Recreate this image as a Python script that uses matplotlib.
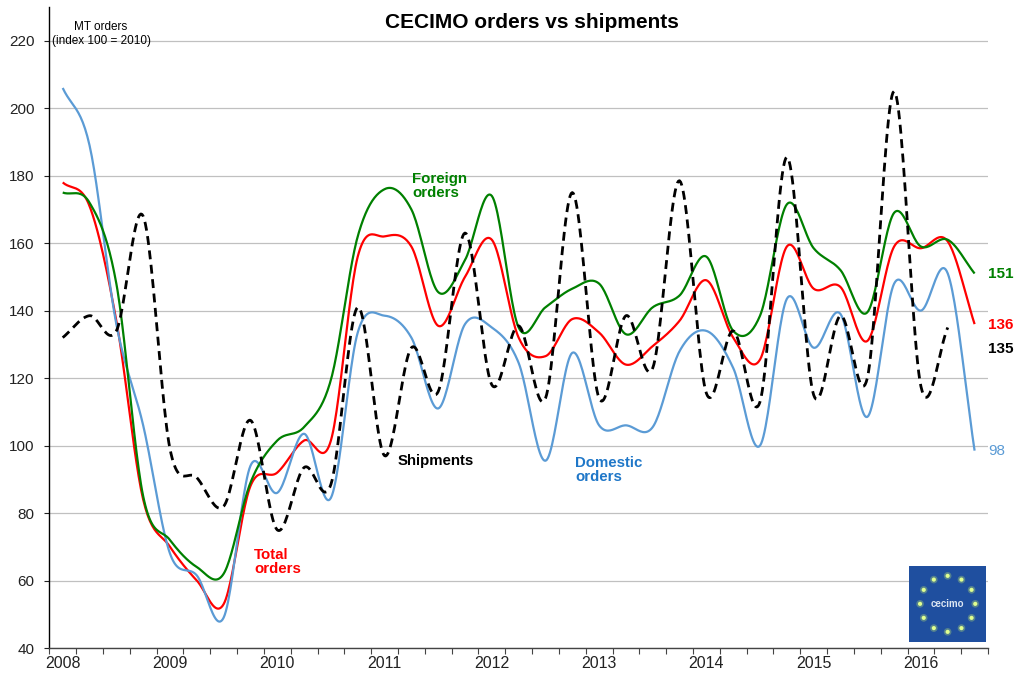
import numpy as np
import matplotlib
matplotlib.use("Agg")
import matplotlib.pyplot as plt
from matplotlib.patches import Rectangle

plt.rcParams['font.family'] = ['Liberation Sans', 'DejaVu Sans']

# ---------------- data (quarterly, 2008Q1 .. 2016Q3) ----------------
years = ['2008', '2009', '2010', '2011', '2012', '2013', '2014', '2015', '2016']

total_orders = [178, 171, 137, 84, 70, 60, 53, 88, 92, 101.5, 101.5, 156, 162, 159,
                135.5, 150, 161, 132, 126.5, 137.5, 133.5, 124, 129.5, 137, 149,
                132, 125.5, 159, 146.5, 147, 131, 159, 158.5, 160.5, 136]

foreign_orders = [175, 172, 148, 85, 72, 64, 62, 89, 101.5, 105.5, 119.5, 162, 176,
                  170, 145.5, 155, 174, 135, 141, 146.5, 148, 133, 141, 144.5, 156,
                  134, 138.5, 171.5, 158.5, 152, 139.5, 169, 159, 161, 151]

domestic_orders = [206, 189, 136, 106, 68, 61.5, 49, 94, 86, 103.5, 84.5, 133.5,
                   138.5, 132, 111, 136, 135, 124.5, 95.5, 127.5, 106, 106, 105.5,
                   128, 134, 123, 100, 143.5, 129, 139, 108.5, 148, 140, 151, 98.5]

shipments = [132, 138.5, 134, 168, 99, 90.5, 82, 107.5, 75, 93.5, 88.5, 141, 97,
             129, 116, 163, 118, 135.5, 114, 175, 114, 138.5, 123, 178.5, 115.5,
             134, 113, 185.5, 115, 138.5, 120, 205, 117.5, 135]

GREEN = '#008000'
RED = '#ff0000'
BLUE = '#5b9bd5'
BLUE_TXT = '#1f77c8'


def smooth(vals, n=24):
    """Catmull-Rom curve through the points (Excel-style smoothed line)."""
    y = np.asarray(vals, float)
    p = np.concatenate([[2 * y[0] - y[1]], y, [2 * y[-1] - y[-2]]])
    t = np.linspace(0, 1, n, endpoint=False)
    xs, ys = [], []
    for i in range(len(y) - 1):
        p0, p1, p2, p3 = p[i], p[i + 1], p[i + 2], p[i + 3]
        ys.append(0.5 * (2 * p1 + (-p0 + p2) * t + (2 * p0 - 5 * p1 + 4 * p2 - p3) * t ** 2
                         + (-p0 + 3 * p1 - 3 * p2 + p3) * t ** 3))
        xs.append(i + t)
    xs.append([len(y) - 1])
    ys.append([y[-1]])
    return np.concatenate(xs), np.concatenate(ys)


fig = plt.figure(figsize=(10.21, 6.75), dpi=100)
ax = fig.add_axes([49.3 / 1021, 1 - 648 / 675, (988 - 49.3) / 1021, (648 - 7) / 675])

for series, col in [(total_orders, RED), (domestic_orders, BLUE), (foreign_orders, GREEN)]:
    sx, sy = smooth(series)
    ax.plot(sx, sy, color=col, lw=1.6, solid_capstyle='butt', zorder=3)

sx, sy = smooth(shipments)
ax.plot(sx, sy, color='black', lw=2.0, linestyle=(0, (3.2, 2.0)), zorder=4)

n = len(total_orders)
ax.set_xlim(-0.5, n - 0.5)
ax.set_ylim(40, 230)
ax.set_yticks(np.arange(40, 221, 20))
ax.yaxis.grid(True, color='#c0c0c0', lw=0.9)
ax.set_axisbelow(True)
ax.tick_params(axis='y', labelsize=11, length=3.5, width=0.8, pad=7, colors='#222222')

ax.set_xticks(np.arange(-0.5, n, 1.0))
ax.set_xticklabels([])
ax.set_xticks(np.arange(0, n, 4), minor=True)
ax.set_xticklabels(years, minor=True)
ax.tick_params(axis='x', which='major', length=4.5, width=0.8, color='#444444')
ax.tick_params(axis='x', which='minor', length=0, labelsize=11.5, pad=6, labelcolor='#222222')

for s in ['top', 'right']:
    ax.spines[s].set_visible(False)
ax.spines['left'].set_linewidth(1.0)
ax.spines['bottom'].set_linewidth(1.0)
ax.spines['bottom'].set_color('#444444')

# title and axis note
fig.text(532 / 1021, 1 - 22 / 675, 'CECIMO orders vs shipments', ha='center', va='center',
         fontsize=15, fontweight='bold')
fig.text(101 / 1021, 1 - 27 / 675, 'MT orders', ha='center', va='center', fontsize=8.5)
fig.text(101 / 1021, 1 - 41 / 675, '(index 100 = 2010)', ha='center', va='center', fontsize=8.5)

# series annotations
FS = 10.8
ax.text(13.03, 176.9, 'Foreign\norders', color=GREEN, fontsize=FS, fontweight='bold',
        ha='left', va='center', linespacing=1.05)
ax.text(7.13, 65.5, 'Total\norders', color=RED, fontsize=FS, fontweight='bold',
        ha='left', va='center', linespacing=1.05)
ax.text(12.5, 95.4, 'Shipments', color='black', fontsize=FS, fontweight='bold',
        ha='left', va='center')
ax.text(19.1, 92.8, 'Domestic\norders', color=BLUE_TXT, fontsize=FS, fontweight='bold',
        ha='left', va='center', linespacing=1.05)

ax.text(34.5, 150.9, '151', color=GREEN, fontsize=11, fontweight='bold', ha='left',
        va='center', clip_on=False)
ax.text(34.5, 135.8, '136', color=RED, fontsize=11, fontweight='bold', ha='left',
        va='center', clip_on=False)
ax.text(34.5, 128.7, '135', color='black', fontsize=11, fontweight='bold', ha='left',
        va='center', clip_on=False)
ax.text(34.5, 98.4, '98', color=BLUE, fontsize=11, ha='left', va='center', clip_on=False)

# CECIMO logo
lax = fig.add_axes([909.3 / 1021, 1 - 641.7 / 675, 76.7 / 1021, 75.7 / 675])
lax.set_xlim(0, 1)
lax.set_ylim(0, 1)
lax.axis('off')
lax.add_patch(Rectangle((0, 0), 1, 1, color='#1f4f9f', transform=lax.transAxes))
ang = np.deg2rad(90 - np.arange(12) * 30)
dx = 0.5 + 0.36 * np.cos(ang)
dy = 0.5 + 0.37 * np.sin(ang)
lax.scatter(dx, dy, s=30, color='#b8e070', alpha=0.35, edgecolors='none')
lax.scatter(dx, dy, s=9, color='#e0ff90', edgecolors='none')
lax.text(0.5, 0.5, 'cecimo', color='#dce6f2', fontsize=7, fontweight='bold',
         ha='center', va='center')

fig.savefig('out.png', dpi=100, facecolor='white')
